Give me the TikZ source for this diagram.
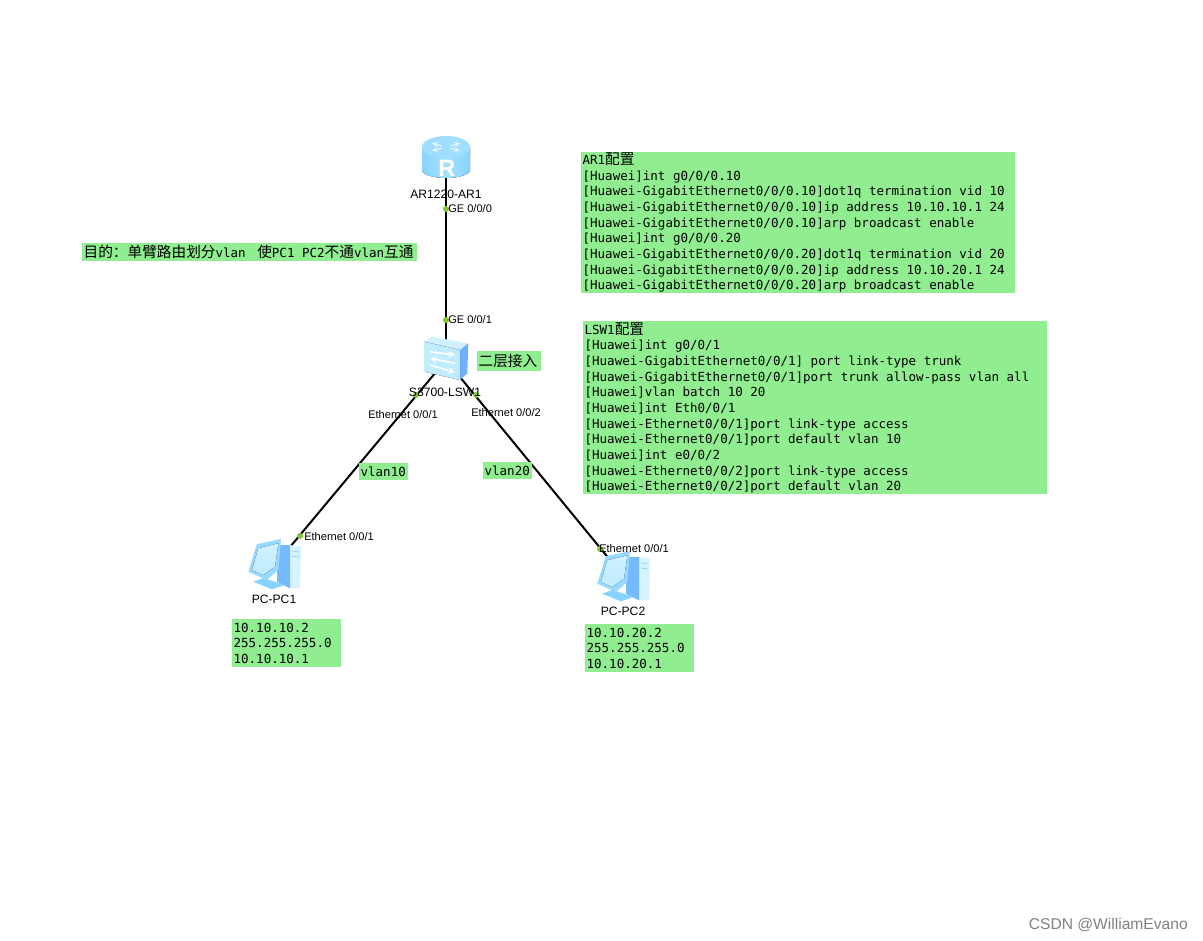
\documentclass[tikz,border=0pt]{standalone}
\usepackage{fontspec}
\setmainfont{Liberation Sans}
\newfontfamily\monofnt{DejaVu Sans Mono}
\newfontfamily\cjk{Noto Sans CJK SC}
\definecolor{notegreen}{HTML}{90EE90}
\definecolor{portgreen}{HTML}{7FC92F}
\definecolor{iconlight}{HTML}{BDEBFF}
\definecolor{iconmid}{HTML}{86D3FF}
\definecolor{icondark}{HTML}{6FB1FF}
\newcommand{\zh}[1]{{\cjk\fontsize{11}{11}\selectfont #1}}

\tikzset{
  devnode/.style={inner sep=0pt,minimum size=0pt},
  link/.style={draw=black,line width=1.5pt},
  portdot/.style={circle,fill=portgreen,inner sep=0pt,minimum size=4.5pt},
  devlabel/.style={inner sep=0pt,font=\fontsize{9.1}{11}\selectfont},
  portlabel/.style={inner sep=0pt,anchor=west,font=\fontsize{8.3}{10}\selectfont},
  notebox/.style={fill=notegreen,anchor=north west,inner xsep=1pt,inner ysep=0pt,align=left,
    font=\monofnt\fontsize{9.39}{11.75}\selectfont,
    execute at begin node={\spaceskip=.602em\xspaceskip=.602em\relax},
    execute at end node={\par\vskip2.5pt}},
  routericon/.pic={
    \fill[left color=iconmid,right color=iconmid,middle color=iconlight!60!iconmid]
      (-24,-11) -- (-24,12) arc[start angle=180,end angle=0,x radius=24,y radius=8] -- (24,-11) -- cycle;
    \fill[iconlight!45!iconmid] (0,-11) ellipse[x radius=24,y radius=11];
    \foreach \a in {30,150,210,330}
      \draw[white!85!iconmid,line width=.8pt,-stealth] (0,-11) ++(\a:5 and 2.5) -- ++(\a:11 and 5);
    \node[white,inner sep=0pt,font=\bfseries\fontsize{17.7}{18}\selectfont] (rlogo) at (1,10) {R};
  },
  switchicon/.pic={
    \fill[iconlight!70!white] (-22,-18.3) -- (-14.3,-23.3) -- (22.3,-16.7) -- (14,-10) -- cycle;
    \fill[icondark] (14,-10) -- (22.3,-16.7) -- (21.3,13.3) -- (14,20) -- cycle;
    \fill[left color=iconlight!90!white,right color=iconlight] (-22,-18.3) -- (14,-10) -- (14,20) -- (-22,11.7) -- cycle;
    \draw[white,line width=1.2pt,-stealth] (-16,-8.3) -- (9,-5);
    \draw[white,line width=1.2pt,-stealth] (9,3.3) -- (-16,-1.7);
    \draw[white,line width=1.2pt,-stealth] (-16,5) -- (9,12.3);
  },
  pcicon/.pic={
    \fill[iconlight!60!white] (15,-20) -- (26,-18.3) -- (25,23.3) -- (15,23.3) -- cycle;
    \fill[icondark!75!iconmid] (2,-20) -- (15,-20) -- (15,23.3) -- (2,16.7) -- cycle;
    \fill[iconmid] (-21.7,16.7) -- (-11.7,13) -- (10,20) -- (-3.3,24.3) -- cycle;
    \fill[iconmid!85!white] (-18.3,-20.7) -- (6,-26) -- (3.3,5) -- (-8.3,15) -- (-26.7,6.7) -- cycle;
    \fill[top color=iconlight!70!white,bottom color=iconlight] (-16.7,-16.7) -- (3.3,-21.7) -- (0,1.7) -- (-11.7,10) -- (-23,5) -- cycle;
    \foreach \y in {-14,-9}
      \draw[iconmid,line width=.5pt] (17,\y) -- (24,\y+1);
  },
}

\begin{document}
\begin{tikzpicture}[x=0.75pt,y=-0.75pt]
  \useasboundingbox (0,0) rectangle (1203,940);

  \node[devnode] (rtr) at (446,158) {};
  \node[devnode] (lsw) at (446,360) {};
  \node[devnode] (pcone) at (275,565) {};
  \node[devnode] (pctwo) at (624,577) {};

  \draw[link] (rtr) -- (lsw);
  \draw[link] (lsw) -- (pcone);
  \draw[link] (lsw) -- (pctwo);

  \pic at (rtr) {routericon};
  \pic at (lsw) {switchicon};
  \pic at (pcone) {pcicon};
  \pic at (pctwo) {pcicon};

  \foreach \name/\x/\y in {rtrport/446/209,lswup/446/320,lswleft/416/395,lswright/476/395,pconeport/300/536,pctwoport/600/549}
    \node[portdot] (\name) at (\x,\y) {};

  \node[devlabel] (rtrlabel) at (446,194) {AR1220-AR1};
  \node[devlabel] (lswlabel) at (445,392) {S3700-LSW1};
  \node[devlabel] (pconelabel) at (274,599) {PC-PC1};
  \node[devlabel] (pctwolabel) at (623,611) {PC-PC2};

  \node[portlabel] (gezero) at (448,209) {GE 0/0/0};
  \node[portlabel] (geone) at (448,320) {GE 0/0/1};
  \node[portlabel] (ethleft) at (368,415) {Ethernet 0/0/1};
  \node[portlabel] (ethright) at (471,413) {Ethernet 0/0/2};
  \node[portlabel] (ethpcone) at (304,537) {Ethernet 0/0/1};
  \node[portlabel] (ethpctwo) at (599,549) {Ethernet 0/0/1};

  \node[notebox,text width=249.25pt,minimum height=13.5pt] (goal) at (82,243)
    {\zh{目的\symbol{"FF1A}单臂路由划分}vlan\hspace{3pt} \zh{使}PC1 PC2\zh{不通}vlan\zh{互通}};
  \node[notebox,text width=46pt,minimum height=15pt] (layertwo) at (477,351) {\zh{二层接入}};
  \node[notebox,text width=34.75pt,minimum height=12.75pt] (vlanten) at (359,463) {vlan10};
  \node[notebox,text width=34.75pt,minimum height=12.75pt] (vlantwenty) at (483,462) {vlan20};

  \node[notebox,text width=323.5pt,minimum height=105.75pt] (arconf) at (581,152) {%
    AR1\zh{配置}\\
    {[}Huawei]int g0/0/0.10\\
    {[}Huawei-GigabitEthernet0/0/0.10]dot1q termination vid 10\\
    {[}Huawei-GigabitEthernet0/0/0.10]ip address 10.10.10.1 24\\
    {[}Huawei-GigabitEthernet0/0/0.10]arp broadcast enable\\
    {[}Huawei]int g0/0/0.20\\
    {[}Huawei-GigabitEthernet0/0/0.20]dot1q termination vid 20\\
    {[}Huawei-GigabitEthernet0/0/0.20]ip address 10.10.20.1 24\\
    {[}Huawei-GigabitEthernet0/0/0.20]arp broadcast enable};

  \node[notebox,text width=346pt,minimum height=129.75pt] (lswconf) at (583,321) {%
    LSW1\zh{配置}\\
    {[}Huawei]int g0/0/1\\
    {[}Huawei-GigabitEthernet0/0/1] port link-type trunk\\
    {[}Huawei-GigabitEthernet0/0/1]port trunk allow-pass vlan all\\
    {[}Huawei]vlan batch 10 20\\
    {[}Huawei]int Eth0/0/1\\
    {[}Huawei-Ethernet0/0/1]port link-type access\\
    {[}Huawei-Ethernet0/0/1]port default vlan 10\\
    {[}Huawei]int e0/0/2\\
    {[}Huawei-Ethernet0/0/2]port link-type access\\
    {[}Huawei-Ethernet0/0/2]port default vlan 20};

  \node[notebox,text width=79.75pt,minimum height=36pt] (pconeconf) at (232,619) {%
    10.10.10.2\\255.255.255.0\\10.10.10.1};
  \node[notebox,text width=79.75pt,minimum height=36pt] (pctwoconf) at (585,624) {%
    10.10.20.2\\255.255.255.0\\10.10.20.1};

  \node[inner sep=0pt,anchor=east,text=gray,font=\fontsize{11.7}{14}\selectfont] (mark) at (1188,925) {CSDN @WilliamEvano};
\end{tikzpicture}
\end{document}
